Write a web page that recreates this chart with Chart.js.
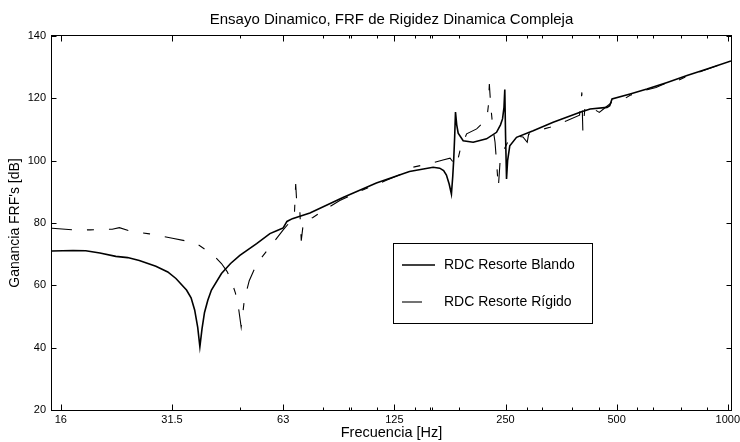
<!DOCTYPE html>
<html><head><meta charset="utf-8">
<script src="https://cdn.jsdelivr.net/npm/chart.js@4.4.0/dist/chart.umd.min.js"></script>
<style>html,body{margin:0;padding:0;background:#fff;}#wrap{width:740px;height:442px;}</style>
</head><body><div id="wrap"><canvas id="c" width="740" height="442"></canvas></div>
<script>
// Tick values (exact octave centres) and their nominal labels
const xTickValues = [15.85, 31.62, 63.1, 125.9, 251.2, 501.2, 1000];
const xTickLabels = ['16', '31.5', '63', '125', '250', '500', '1000'];
const xMinorTicks = [48.3, 81.0, 94.9, 96.3, 112.9, 143.5, 157.2, 159.1, 188.6, 287.3, 315.6, 379.4, 448.4, 570.2, 628.6, 749.8, 880.9];
const yTickValues = [20, 40, 60, 80, 100, 120, 140];

// Series: RDC Resorte Blando (solid)
const blandoFreq = [15.0, 17.1, 18.5, 20.2, 22.3, 24.0, 25.8, 28.6, 30.8, 32.4, 34.6, 35.6, 36.4, 37.1, 37.6, 38.1, 38.7, 39.5, 40.4, 43.0,
  45.5, 48.2, 53.5, 58.1, 60.8, 63.1, 64.6, 66.8, 74.5, 91.5, 112.6, 138.3, 160.2, 166.9, 171.0, 174.0, 177.0, 179.5, 181.0, 182.1,
  183.2, 184.1, 185.5, 187.2, 193.1, 205.5, 223.3, 237.6, 243.5, 246.6, 248.8, 250.1, 251.3, 252.8, 254.5, 258.0, 269.0, 298.3, 337.8, 399.3,
  425, 472, 480, 487, 545, 605, 686, 776, 879, 1020];
const blandoGain = [71.0, 71.2, 71.1, 70.4, 69.3, 68.9, 68.0, 66.1, 64.3, 62.2, 58.5, 56.0, 52.1, 46.5, 40.3, 46.0, 51.3, 55.2, 58.5, 63.8,
  67.0, 69.6, 73.4, 76.6, 77.6, 78.4, 80.5, 81.4, 83.2, 88.2, 92.8, 96.5, 97.9, 97.6, 96.8, 95.4, 92.5, 89.3, 95.0, 100.5,
  108.0, 115.6, 111.5, 108.8, 106.4, 105.9, 107.0, 109.1, 111.5, 113.4, 117.0, 122.8, 108.0, 94.1, 100.0, 104.8, 107.5, 109.6, 112.3, 115.5,
  116.6, 117.1, 117.6, 119.8, 121.4, 123.0, 125.1, 127.3, 129.4, 132.0];

// Series: RDC Resorte Rigido (dashed)
const rigidoFreq = [15.0, 17.1, 19.0, 21.8, 22.8, 24.2, 27.5, 31.7, 35.3, 37.5, 39.1, 41.0, 43.0, 44.5, 45.7, 46.9, 47.9, 48.6, 49.6, 51.1,
  53.6, 58.1, 63.1, 66.0, 67.6, 68.2, 68.8, 70.0, 70.6, 71.6, 75.9, 81.0, 89.7, 100, 119.4, 135.2, 141.2, 154.9, 170.3, 178,
  181.5, 183.5, 187, 190, 197.3, 210.0, 221.2, 224.5, 225.8, 227.2, 229.2, 232, 235.4, 237.6, 240.3, 242.8, 246, 250, 256, 264.5,
  280, 287.5, 290, 310, 331, 367.4, 398, 403.7, 406.2, 412, 433.8, 450, 470, 490, 520, 545, 600, 640, 680, 700,
  776, 879, 1020];
const rigidoGain = [78.3, 77.8, 77.8, 78.0, 78.5, 77.5, 76.5, 75.1, 74.0, 72.8, 71.3, 69.5, 67.0, 64.5, 61.6, 57.5, 52.0, 46.6, 55.6, 61.5,
  67.0, 72.3, 77.8, 80.5, 81.8, 92.5, 84.5, 83.5, 74.3, 80.5, 81.8, 84.0, 87.2, 89.9, 93.6, 96.3, 97.9, 98.9, 100.2, 100.8,
  99.5, 101.8, 100.5, 104.0, 108.6, 110.2, 112.8, 115.0, 117.6, 124.6, 117.6, 111.0, 105.9, 99.5, 91.5, 99.5, 101.5, 104.0, 106.5, 108.0,
  107.6, 105.9, 108.5, 109.8, 110.7, 112.8, 114.6, 121.9, 109.6, 117.6, 116.6, 115.5, 117.3, 119.0, 119.5, 121.0, 122.6, 123.5, 124.8, 124.5,
  127.1, 129.3, 132.1];

const seriesLabels = ['RDC Resorte Blando', 'RDC Resorte Rígido'];
const FONT = 'Liberation Sans, Arial, sans-serif';

const framePlugin = {
  id: 'frame',
  afterDatasetsDraw(chart) {
    const {ctx, chartArea: a, scales: {x, y}} = chart;
    ctx.save();
    ctx.strokeStyle = '#000';
    ctx.lineWidth = 1;
    ctx.setLineDash([]);
    const L = Math.round(a.left) - 0.5, R = Math.round(a.right) + 0.5;
    const T = Math.round(a.top) - 0.5, B = Math.round(a.bottom) + 0.5;
    ctx.strokeRect(L, T, R - L, B - T);
    ctx.beginPath();
    yTickValues.forEach(v => {
      const py = Math.round(y.getPixelForValue(v)) + 0.5;
      ctx.moveTo(L, py); ctx.lineTo(L + 5, py);
      ctx.moveTo(R, py); ctx.lineTo(R - 5, py);
    });
    xTickValues.forEach(v => {
      const px = Math.round(x.getPixelForValue(v)) + 0.5;
      ctx.moveTo(px, B); ctx.lineTo(px, B - 6);
      ctx.moveTo(px, T); ctx.lineTo(px, T + 6);
    });
    xMinorTicks.forEach(v => {
      const px = Math.round(x.getPixelForValue(v)) + 0.5;
      ctx.moveTo(px, B); ctx.lineTo(px, B - 3);
      ctx.moveTo(px, T); ctx.lineTo(px, T + 3);
    });
    ctx.stroke();
    ctx.restore();
  }
};

const legendPlugin = {
  id: 'boxLegend',
  afterDraw(chart) {
    const {ctx} = chart;
    const bx = 393.5, by = 243.5, bw = 199, bh = 80;
    ctx.save();
    ctx.fillStyle = '#fff';
    ctx.fillRect(bx, by, bw, bh);
    ctx.strokeStyle = '#000';
    ctx.lineWidth = 1;
    ctx.setLineDash([]);
    ctx.strokeRect(bx, by, bw, bh);
    const rows = [265, 302];
    chart.data.datasets.forEach((ds, i) => {
      const yy = rows[i];
      ctx.beginPath();
      ctx.strokeStyle = ds.borderColor;
      ctx.lineWidth = ds.borderWidth;
      ctx.setLineDash(ds.borderDash || []);
      ctx.moveTo(402, yy); ctx.lineTo(435, yy);
      ctx.stroke();
      ctx.setLineDash([]);
      ctx.fillStyle = '#000';
      ctx.font = '14px ' + FONT;
      ctx.textBaseline = 'middle';
      ctx.textAlign = 'left';
      ctx.fillText(ds.label, 444, yy);
    });
    ctx.restore();
  }
};

new Chart(document.getElementById('c'), {
  type: 'line',
  data: {
    datasets: [
      {label: seriesLabels[0], data: blandoFreq.map((f, i) => ({x: f, y: blandoGain[i]})),
       borderColor: '#000', borderWidth: 1.6, pointRadius: 0, tension: 0, fill: false},
      {label: seriesLabels[1], data: rigidoFreq.map((f, i) => ({x: f, y: rigidoGain[i]})),
       borderColor: '#000', borderWidth: 1.1, borderDash: [20, 15, 7, 15], pointRadius: 0, tension: 0, fill: false}
    ]
  },
  options: {
    responsive: false, animation: false, devicePixelRatio: 1,
    layout: {padding: {left: 0, right: 9, top: 0, bottom: 0}},
    plugins: {
      legend: {display: false}, tooltip: {enabled: false},
      title: {display: true, fullSize: false, text: 'Ensayo Dinamico, FRF de Rigidez Dinamica Compleja', color: '#000',
        font: {family: FONT, size: 15, weight: 'normal'}, padding: {top: 11, bottom: 7}}
    },
    scales: {
      x: {
        type: 'logarithmic', min: 15, max: 1020,
        afterBuildTicks: s => { s.ticks = xTickValues.map(v => ({value: v})); },
        afterFit: s => { s.height = 32; s.paddingLeft = 0; s.paddingRight = 0; },
        ticks: {autoSkip: false, maxRotation: 0, color: '#000', font: {family: FONT, size: 11}, padding: 3,
          callback: (v, i) => xTickLabels[i]},
        grid: {display: false, drawTicks: false}, border: {display: false},
        title: {display: true, text: 'Frecuencia [Hz]', color: '#000', font: {family: FONT, size: 14.5}, padding: {top: 0, bottom: 0}}
      },
      y: {
        min: 20, max: 140,
        afterBuildTicks: s => { s.ticks = yTickValues.map(v => ({value: v})); },
        afterFit: s => { s.width = 52; s.paddingTop = 0; s.paddingBottom = 0; },
        ticks: {color: '#000', font: {family: FONT, size: 11}, padding: 6},
        grid: {display: false, drawTicks: false}, border: {display: false},
        title: {display: true, text: "Ganancia FRF's [dB]", color: '#000', font: {family: FONT, size: 14}, padding: {top: 7, bottom: 0}}
      }
    }
  },
  plugins: [framePlugin, legendPlugin]
});
</script></body></html>
